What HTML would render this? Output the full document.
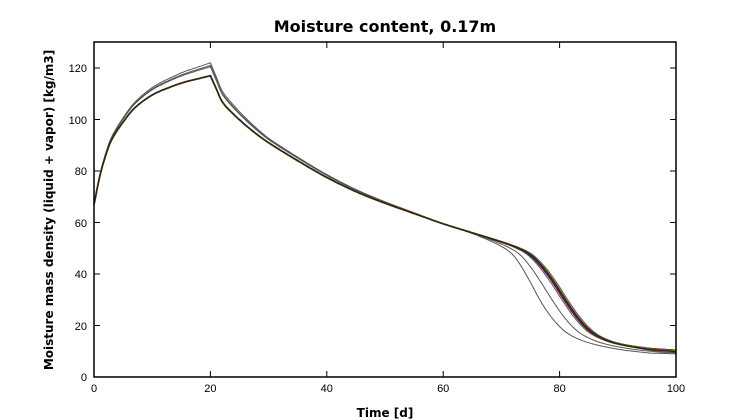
<!DOCTYPE html>
<html><head><meta charset="utf-8"><style>
html,body{margin:0;padding:0;background:#fff;}
svg{display:block;}
text{font-family:"Liberation Sans",Arial,sans-serif;fill:#000;}
</style></head><body>
<svg id="s" width="750" height="420" viewBox="0 0 750 420" xmlns="http://www.w3.org/2000/svg">
<rect width="750" height="420" fill="#fff"/>
<text x="385" y="32" text-anchor="middle" font-size="16" font-weight="bold" style="font-family:'DejaVu Sans','Liberation Sans',sans-serif">Moisture content, 0.17m</text>
<g id="curves" fill="none"></g>
<rect x="94" y="42" width="582" height="335" fill="none" stroke="#000" stroke-width="1.5"/>
<g id="ticks" stroke="#000" stroke-width="1"></g>
<g font-size="11" text-anchor="middle">
<text x="94" y="392">0</text><text x="210.4" y="392">20</text><text x="326.8" y="392">40</text>
<text x="443.2" y="392">60</text><text x="559.6" y="392">80</text><text x="676" y="392">100</text>
</g>
<g font-size="11" text-anchor="end">
<text x="87" y="381">0</text><text x="87" y="330">20</text><text x="87" y="278">40</text>
<text x="87" y="227">60</text><text x="87" y="175">80</text><text x="87" y="124">100</text><text x="87" y="72">120</text>
</g>
<text x="385" y="417" text-anchor="middle" font-size="12" font-weight="bold" style="font-family:'DejaVu Sans','Liberation Sans',sans-serif">Time [d]</text>
<text transform="translate(53,210) rotate(-90)" text-anchor="middle" font-size="12" font-weight="bold" style="font-family:'DejaVu Sans','Liberation Sans',sans-serif">Moisture mass density (liquid + vapor) [kg/m3]</text>
</svg>
<script>
var X=function(t){return 94+t*5.82;},Y=function(v){return 377-v*2.575;};
var P=[[0,67],[1,78],[2,86],[3,92],[5,99],[7,104.5],[10,109.5],[13,112.5],[16,114.8],[20,117],[21,112],[22,107],[24,102],[27,96],[30,91],[35,84],[40,77.5],[45,72],[50,67.5],[55,63.5],[60,59.5],[65,56],[70,52.5],[73,50],[75,47.5],[77,43],[79,37],[81,30],[83,23.5],[85,18.5],[87,15.5],[90,13],[95,11],[100,10]];
function main(t){if(t<=0)return P[0][1];if(t>=100)return P[P.length-1][1];
for(var i=0;i<P.length-1;i++){if(t<=P[i+1][0]){var p0=P[Math.max(0,i-1)],p1=P[i],p2=P[i+1],p3=P[Math.min(P.length-1,i+2)];
var u=(t-p1[0])/(p2[0]-p1[0]);var m1=(p2[1]-p0[1])/(p2[0]-p0[0])*(p2[0]-p1[0]),m2=(p3[1]-p1[1])/(p3[0]-p1[0])*(p2[0]-p1[0]);
if(p1[0]==20||p2[0]==20){m1=(p2[1]-p1[1]);m2=m1;}
var u2=u*u,u3=u2*u;return (2*u3-3*u2+1)*p1[1]+(u3-2*u2+u)*m1+(-2*u3+3*u2)*p2[1]+(u3-u2)*m2;}}}
function curve(a,s,e){var d="";for(var t=0;t<=100.01;t+=0.25){var h=t<=20?Math.pow(t/20,0.8):(t<60?(0.45+0.55*Math.max(0,(30-t)/10))*(60-t)/40:0);
var q=Math.min(1,Math.max(0,(t-62)/16));var w=q*q*(3-2*q);var v=main(t+s*w)+a*h+e*Math.max(0,(t-85)/15);
d+=(t==0?"M":"L")+X(t).toFixed(1)+","+Y(v).toFixed(1);}return d;}
var g=document.getElementById("curves"),ns="http://www.w3.org/2000/svg";
function add(d,c,w){var p=document.createElementNS(ns,"path");p.setAttribute("d",d);p.setAttribute("stroke",c);p.setAttribute("stroke-width",w);g.appendChild(p);}
add(curve(5,4.5,-1),"#555",1);add(curve(4,2.3,-0.5),"#555",1);add(curve(3.5,0.6,0),"#555",1);add(curve(0,-0.4,-0.8),"#555",1);
add(curve(0,0.25,0.4),"#0000cc",1.5);add(curve(0,0.12,0.3),"#cc0000",1.8);add(curve(0,0,0),"#008000",1.5);add(curve(0,-0.1,0.1),"#6b6b00",1.5);add(curve(0,0,-0.2),"#222",1.2);
var tk=document.getElementById("ticks"),d="";
[0,20,40,60,80,100].forEach(function(t){var x=X(t);d+="M"+x+",377V371M"+x+",42V48";});
[0,20,40,60,80,100,120].forEach(function(v){var y=Y(v);d+="M94,"+y+"H100M676,"+y+"H670";});
var p=document.createElementNS(ns,"path");p.setAttribute("d",d);tk.appendChild(p);
</script>
</body></html>
